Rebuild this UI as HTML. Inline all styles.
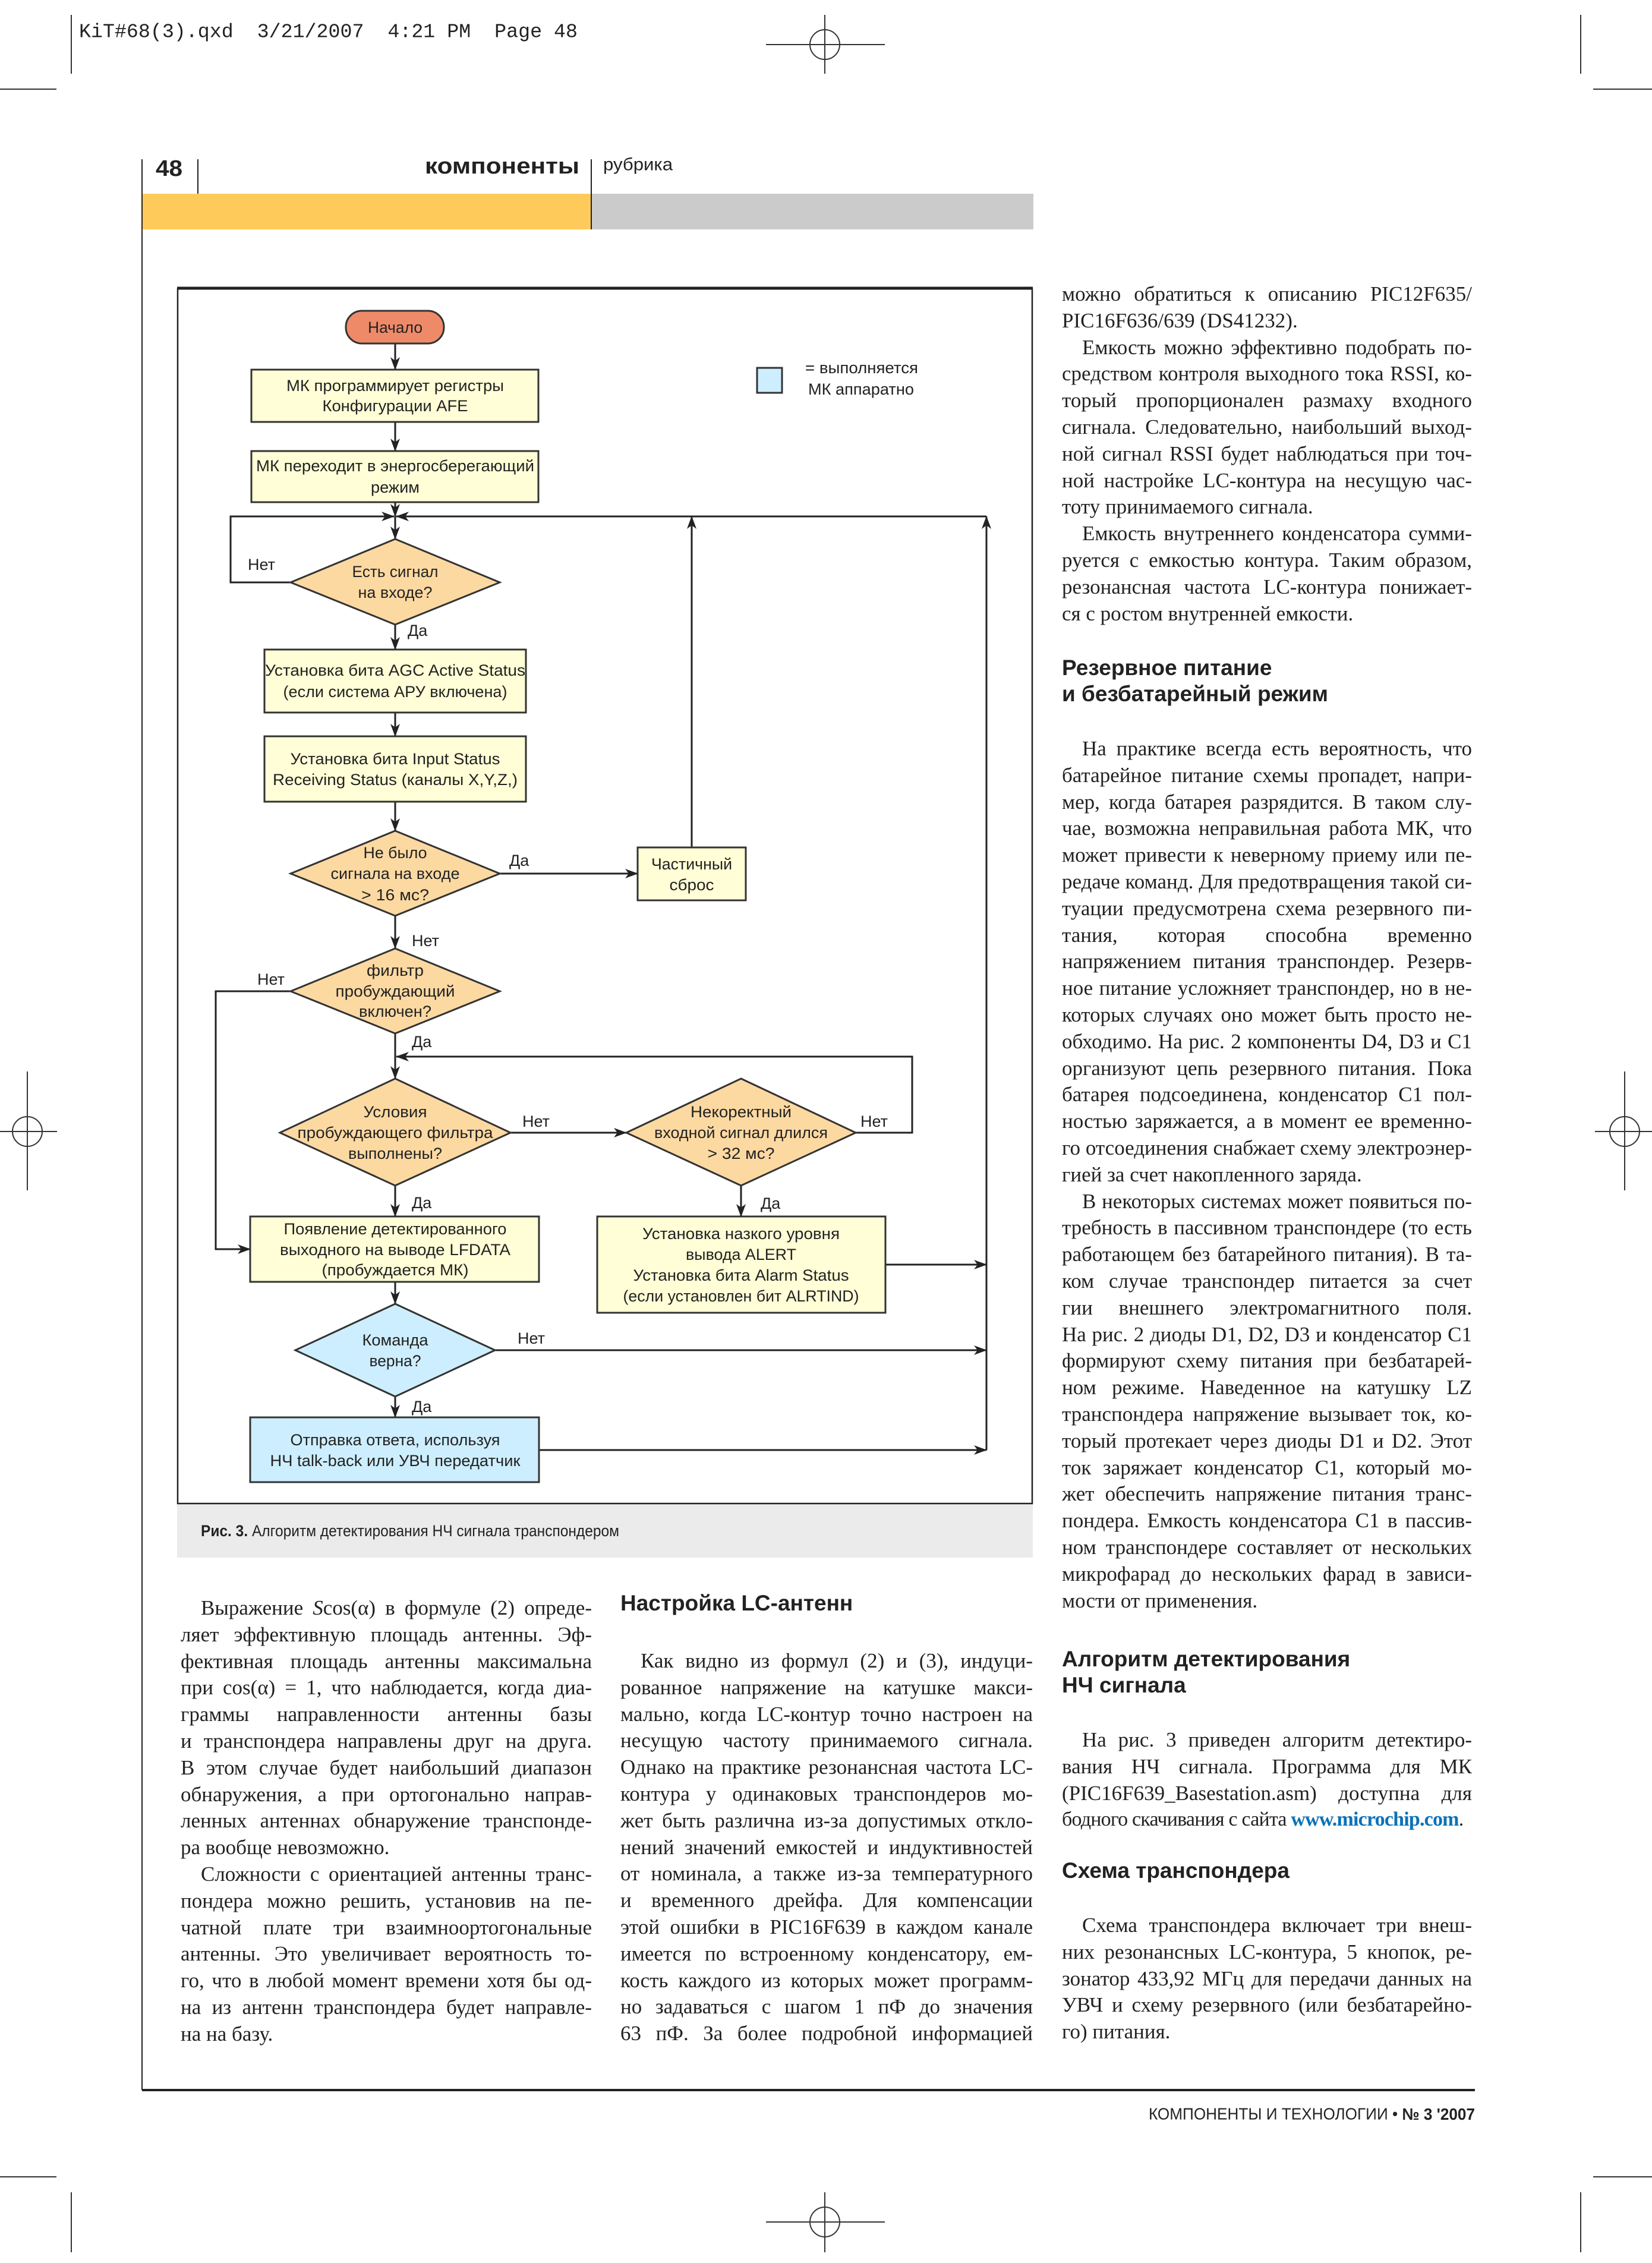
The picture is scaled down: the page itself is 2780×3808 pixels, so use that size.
<!DOCTYPE html>
<html><head><meta charset="utf-8">
<style>
html,body{margin:0;padding:0;background:#fff;}
body{width:2780px;height:3808px;position:relative;overflow:hidden;}
svg.bg{position:absolute;left:0;top:0;}
.col{position:absolute;font-family:"Liberation Serif","Noto Serif CJK SC",serif;font-size:35px;color:#222;}
.col div{height:44.8px;line-height:44.8px;overflow:hidden;text-align:justify;text-align-last:justify;}
.col div.l{text-align-last:left;}
.col div.i{text-indent:34px;}
.h{position:absolute;font-family:"Liberation Sans",sans-serif;font-weight:bold;font-size:37px;color:#222;line-height:44px;}
a.lnk{color:#0a72b9;font-weight:bold;text-decoration:none;}
</style></head><body>
<svg class="bg" width="2780" height="3808" viewBox="0 0 2780 3808" xmlns="http://www.w3.org/2000/svg">
<defs>
<marker id="ar" markerWidth="22" markerHeight="16" refX="21" refY="8" orient="auto" markerUnits="userSpaceOnUse" viewBox="0 0 22 16">
<path d="M0,0 L22,8 L0,16 L6,8 Z" fill="#222"/>
</marker>
</defs>
<style>
.ln{stroke:#222;stroke-width:3;fill:none;}
.a{stroke:#222;stroke-width:3;fill:none;marker-end:url(#ar);}
.bx{stroke:#333;stroke-width:3;}
.t{font-family:"Liberation Sans Narrow","Liberation Sans",sans-serif;font-size:27px;fill:#222;text-anchor:middle;dominant-baseline:central;}
.lb{font-family:"Liberation Sans Narrow","Liberation Sans",sans-serif;font-size:27px;fill:#222;dominant-baseline:central;}
.cm{stroke:#333;stroke-width:2;fill:none;}
</style>
<text x="133" y="54" font-family="Liberation Mono,monospace" font-size="33" fill="#222" dominant-baseline="central" style="white-space:pre" xml:space="preserve" textLength="839" lengthAdjust="spacingAndGlyphs">KiT#68(3).qxd  3/21/2007  4:21 PM  Page 48</text>
<line class="cm" x1="120" y1="25" x2="120" y2="124"/>
<line class="cm" x1="2660" y1="25" x2="2660" y2="124"/>
<line class="cm" x1="1388" y1="25" x2="1388" y2="124"/>
<line class="cm" x1="1289" y1="75" x2="1489" y2="75"/>
<circle class="cm" cx="1388" cy="75" r="25"/>
<line class="cm" x1="0" y1="150" x2="95" y2="150"/>
<line class="cm" x1="2681" y1="150" x2="2780" y2="150"/>
<line class="cm" x1="46" y1="1803" x2="46" y2="2003"/>
<line class="cm" x1="0" y1="1904" x2="96" y2="1904"/>
<circle class="cm" cx="46" cy="1904" r="25"/>
<line class="cm" x1="2734" y1="1803" x2="2734" y2="2003"/>
<line class="cm" x1="2684" y1="1904" x2="2780" y2="1904"/>
<circle class="cm" cx="2734" cy="1904" r="25"/>
<line class="cm" x1="0" y1="3663" x2="95" y2="3663" stroke-width="4"/>
<line class="cm" x1="2681" y1="3663" x2="2780" y2="3663" stroke-width="4"/>
<line class="cm" x1="120" y1="3689" x2="120" y2="3790"/>
<line class="cm" x1="2660" y1="3689" x2="2660" y2="3790"/>
<line class="cm" x1="1388" y1="3689" x2="1388" y2="3790"/>
<line class="cm" x1="1289" y1="3739" x2="1489" y2="3739" stroke-width="4"/>
<circle class="cm" cx="1388" cy="3739" r="25"/>

<rect x="239" y="326" width="756" height="60" fill="#fecb5a"/>
<rect x="995" y="326" width="744" height="60" fill="#cbcbcb"/>
<line x1="239" y1="268" x2="239" y2="3517" stroke="#222" stroke-width="2"/>
<line x1="333" y1="268" x2="333" y2="326" stroke="#222" stroke-width="2"/>
<line x1="995" y1="268" x2="995" y2="386" stroke="#222" stroke-width="2"/>
<text x="262" y="284" font-family="Liberation Sans Narrow,Liberation Sans,sans-serif" font-weight="bold" font-size="38" fill="#222" dominant-baseline="central" textLength="45" lengthAdjust="spacingAndGlyphs">48</text>
<text x="975" y="280" font-family="Liberation Sans,sans-serif" font-weight="bold" font-size="38" fill="#222" text-anchor="end" dominant-baseline="central" textLength="260" lengthAdjust="spacingAndGlyphs">компоненты</text>
<text x="1015" y="277" font-family="Liberation Sans,sans-serif" font-size="30" fill="#222" dominant-baseline="central" textLength="117" lengthAdjust="spacingAndGlyphs">рубрика</text>

<line x1="239" y1="3517" x2="2482" y2="3517" stroke="#222" stroke-width="4"/>
<text x="2482" y="3557" font-family="Liberation Sans Narrow,Liberation Sans,sans-serif" font-size="28" fill="#222" text-anchor="end" dominant-baseline="central" textLength="549" lengthAdjust="spacingAndGlyphs">КОМПОНЕНТЫ И ТЕХНОЛОГИИ • <tspan font-weight="bold">№ 3 '2007</tspan></text>

<rect x="298" y="2530" width="1440" height="91" fill="#ebebeb"/>
<rect x="299" y="486" width="1438" height="2044" fill="none" stroke="#222" stroke-width="2.5"/>
<line x1="298" y1="485" x2="1738" y2="485" stroke="#222" stroke-width="5"/>
<text x="338" y="2576" class="lb" font-size="26" textLength="704" lengthAdjust="spacingAndGlyphs"><tspan font-weight="bold">Рис. 3.</tspan> Алгоритм детектирования НЧ сигнала транспондером</text>

<rect x="1274" y="619" width="42" height="42" fill="#cdeefe" class="bx"/>
<text class="lb" x="1355" y="619" textLength="190" lengthAdjust="spacingAndGlyphs">= выполняется</text>
<text class="lb" x="1360" y="655" textLength="178" lengthAdjust="spacingAndGlyphs">МК аппаратно</text>

<line class="a" x1="665" y1="578" x2="665" y2="622"/>
<line class="a" x1="665" y1="710" x2="665" y2="759"/>
<line class="a" x1="665" y1="845" x2="665" y2="869"/>
<line class="a" x1="665" y1="869" x2="665" y2="907"/>
<polyline class="a" points="489,980 388,980 388,869 663,869"/>
<polyline class="a" points="1660,2440 1660,869"/>
<line class="a" x1="1660" y1="869" x2="667" y2="869"/>
<line class="a" x1="1164" y1="1426" x2="1164" y2="869"/>
<line class="a" x1="665" y1="1051" x2="665" y2="1093"/>
<line class="a" x1="665" y1="1199" x2="665" y2="1239"/>
<line class="a" x1="665" y1="1349" x2="665" y2="1398"/>
<line class="a" x1="841" y1="1470" x2="1073" y2="1470"/>
<line class="a" x1="665" y1="1541" x2="665" y2="1596"/>
<polyline class="a" points="489,1668 363,1668 363,2102 421,2102"/>
<line class="a" x1="665" y1="1739" x2="665" y2="1815"/>
<polyline class="a" points="1440,1906 1535,1906 1535,1778 667,1778"/>
<line class="a" x1="859" y1="1906" x2="1054" y2="1906"/>
<line class="a" x1="665" y1="1995" x2="665" y2="2047"/>
<line class="a" x1="1247" y1="1995" x2="1247" y2="2047"/>
<line class="a" x1="1490" y1="2128" x2="1660" y2="2128"/>
<line class="a" x1="665" y1="2157" x2="665" y2="2194"/>
<line class="a" x1="833" y1="2272" x2="1660" y2="2272"/>
<line class="a" x1="665" y1="2350" x2="665" y2="2385"/>
<line class="a" x1="907" y1="2440" x2="1660" y2="2440"/>

<rect x="582" y="523" width="165" height="55" rx="27" fill="#ef8a68" class="bx"/>
<rect x="423" y="622" width="483" height="88" fill="#fffed6" class="bx"/>
<rect x="423" y="759" width="483" height="86" fill="#fffed6" class="bx"/>
<polygon points="665,907 841,980 665,1051 489,980" fill="#fdd9a2" class="bx"/>
<rect x="445" y="1093" width="440" height="106" fill="#fffed6" class="bx"/>
<rect x="445" y="1239" width="440" height="110" fill="#fffed6" class="bx"/>
<polygon points="665,1398 841,1470 665,1541 489,1470" fill="#fdd9a2" class="bx"/>
<rect x="1073" y="1426" width="182" height="89" fill="#fffed6" class="bx"/>
<polygon points="665,1596 841,1668 665,1739 489,1668" fill="#fdd9a2" class="bx"/>
<polygon points="665,1815 859,1906 665,1995 471,1906" fill="#fdd9a2" class="bx"/>
<polygon points="1247,1815 1440,1906 1247,1995 1054,1906" fill="#fdd9a2" class="bx"/>
<rect x="421" y="2047" width="486" height="110" fill="#fffed6" class="bx"/>
<rect x="1005" y="2047" width="485" height="162" fill="#fffed6" class="bx"/>
<polygon points="665,2194 833,2272 665,2350 497,2272" fill="#cdeefe" class="bx"/>
<rect x="421" y="2385" width="486" height="109" fill="#cdeefe" class="bx"/>

<text class="t" x="665" y="551" textLength="92" lengthAdjust="spacingAndGlyphs">Начало</text>
<text class="t" x="665" y="649" textLength="366" lengthAdjust="spacingAndGlyphs">МК программирует регистры</text>
<text class="t" x="665" y="683" textLength="245" lengthAdjust="spacingAndGlyphs">Конфигурации AFE</text>
<text class="t" x="665" y="784" textLength="468" lengthAdjust="spacingAndGlyphs">МК переходит в энергосберегающий</text>
<text class="t" x="665" y="820" textLength="82" lengthAdjust="spacingAndGlyphs">режим</text>
<text class="t" x="665" y="962" textLength="145" lengthAdjust="spacingAndGlyphs">Есть сигнал</text>
<text class="t" x="665" y="997" textLength="125" lengthAdjust="spacingAndGlyphs">на входе?</text>
<text class="t" x="665" y="1128" textLength="438" lengthAdjust="spacingAndGlyphs">Установка бита AGC Active Status</text>
<text class="t" x="665" y="1164" textLength="377" lengthAdjust="spacingAndGlyphs">(если система АРУ включена)</text>
<text class="t" x="665" y="1277" textLength="353" lengthAdjust="spacingAndGlyphs">Установка бита Input Status</text>
<text class="t" x="665" y="1312" textLength="412" lengthAdjust="spacingAndGlyphs">Receiving Status (каналы X,Y,Z,)</text>
<text class="t" x="665" y="1435" textLength="107" lengthAdjust="spacingAndGlyphs">Не было</text>
<text class="t" x="665" y="1470" textLength="217" lengthAdjust="spacingAndGlyphs">сигнала на входе</text>
<text class="t" x="665" y="1506" textLength="114" lengthAdjust="spacingAndGlyphs">&gt; 16 мс?</text>
<text class="t" x="1164" y="1454" textLength="136" lengthAdjust="spacingAndGlyphs">Частичный</text>
<text class="t" x="1164" y="1489" textLength="75" lengthAdjust="spacingAndGlyphs">сброс</text>
<text class="t" x="665" y="1633" textLength="96" lengthAdjust="spacingAndGlyphs">фильтр</text>
<text class="t" x="665" y="1668" textLength="201" lengthAdjust="spacingAndGlyphs">пробуждающий</text>
<text class="t" x="665" y="1702" textLength="122" lengthAdjust="spacingAndGlyphs">включен?</text>
<text class="t" x="665" y="1871" textLength="107" lengthAdjust="spacingAndGlyphs">Условия</text>
<text class="t" x="665" y="1906" textLength="329" lengthAdjust="spacingAndGlyphs">пробуждающего фильтра</text>
<text class="t" x="665" y="1941" textLength="158" lengthAdjust="spacingAndGlyphs">выполнены?</text>
<text class="t" x="1247" y="1871" textLength="170" lengthAdjust="spacingAndGlyphs">Некоректный</text>
<text class="t" x="1247" y="1906" textLength="292" lengthAdjust="spacingAndGlyphs">входной сигнал длился</text>
<text class="t" x="1247" y="1941" textLength="113" lengthAdjust="spacingAndGlyphs">&gt; 32 мс?</text>
<text class="t" x="665" y="2068" textLength="375" lengthAdjust="spacingAndGlyphs">Появление детектированного</text>
<text class="t" x="665" y="2103" textLength="388" lengthAdjust="spacingAndGlyphs">выходного на выводе LFDATA</text>
<text class="t" x="665" y="2137" textLength="247" lengthAdjust="spacingAndGlyphs">(пробуждается МК)</text>
<text class="t" x="1247" y="2076" textLength="332" lengthAdjust="spacingAndGlyphs">Установка назкого уровня</text>
<text class="t" x="1247" y="2111" textLength="186" lengthAdjust="spacingAndGlyphs">вывода ALERT</text>
<text class="t" x="1247" y="2146" textLength="363" lengthAdjust="spacingAndGlyphs">Установка бита Alarm Status</text>
<text class="t" x="1247" y="2181" textLength="397" lengthAdjust="spacingAndGlyphs">(если установлен бит ALRTIND)</text>
<text class="t" x="665" y="2255" textLength="111" lengthAdjust="spacingAndGlyphs">Команда</text>
<text class="t" x="665" y="2290" textLength="87" lengthAdjust="spacingAndGlyphs">верна?</text>
<text class="t" x="665" y="2423" textLength="353" lengthAdjust="spacingAndGlyphs">Отправка ответа, используя</text>
<text class="t" x="665" y="2458" textLength="421" lengthAdjust="spacingAndGlyphs">НЧ talk-back или УВЧ передатчик</text>

<text class="lb" x="417" y="950">Нет</text>
<text class="lb" x="686" y="1061">Да</text>
<text class="lb" x="857" y="1448">Да</text>
<text class="lb" x="693" y="1583">Нет</text>
<text class="lb" x="433" y="1648">Нет</text>
<text class="lb" x="693" y="1753">Да</text>
<text class="lb" x="879" y="1887">Нет</text>
<text class="lb" x="1448" y="1887">Нет</text>
<text class="lb" x="693" y="2024">Да</text>
<text class="lb" x="1280" y="2025">Да</text>
<text class="lb" x="871" y="2252">Нет</text>
<text class="lb" x="693" y="2367">Да</text>
</svg>

<div class="col" style="left:1787px;top:473px;width:690px;">
<div>можно обратиться к описанию PIC12F635/</div>
<div class="l">PIC16F636/639 (DS41232).</div>
<div class="i">Емкость можно эффективно подобрать по-</div>
<div>средством контроля выходного тока RSSI, ко-</div>
<div>торый пропорционален размаху входного</div>
<div>сигнала. Следовательно, наибольший выход-</div>
<div>ной сигнал RSSI будет наблюдаться при точ-</div>
<div>ной настройке LC-контура на несущую час-</div>
<div class="l">тоту принимаемого сигнала.</div>
<div class="i">Емкость внутреннего конденсатора сумми-</div>
<div>руется с емкостью контура. Таким образом,</div>
<div>резонансная частота LC-контура понижает-</div>
<div class="l">ся с ростом внутренней емкости.</div>
</div>
<div class="h" style="left:1787px;top:1102px;">Резервное питание<br>и безбатарейный режим</div>
<div class="col" style="left:1787px;top:1238px;width:690px;">
<div class="i">На практике всегда есть вероятность, что</div>
<div>батарейное питание схемы пропадет, напри-</div>
<div>мер, когда батарея разрядится. В таком слу-</div>
<div>чае, возможна неправильная работа МК, что</div>
<div>может привести к неверному приему или пе-</div>
<div>редаче команд. Для предотвращения такой си-</div>
<div>туации предусмотрена схема резервного пи-</div>
<div>тания, которая способна временно обеспечить</div>
<div>напряжением питания транспондер. Резерв-</div>
<div>ное питание усложняет транспондер, но в не-</div>
<div>которых случаях оно может быть просто не-</div>
<div>обходимо. На рис. 2 компоненты D4, D3 и C1</div>
<div>организуют цепь резервного питания. Пока</div>
<div>батарея подсоединена, конденсатор C1 пол-</div>
<div>ностью заряжается, а в момент ее временно-</div>
<div>го отсоединения снабжает схему электроэнер-</div>
<div class="l">гией за счет накопленного заряда.</div>
<div class="i">В некоторых системах может появиться по-</div>
<div>требность в пассивном транспондере (то есть</div>
<div>работающем без батарейного питания). В та-</div>
<div>ком случае транспондер питается за счет энер-</div>
<div>гии внешнего электромагнитного поля.</div>
<div>На рис. 2 диоды D1, D2, D3 и конденсатор C1</div>
<div>формируют схему питания при безбатарей-</div>
<div>ном режиме. Наведенное на катушку LZ</div>
<div>транспондера напряжение вызывает ток, ко-</div>
<div>торый протекает через диоды D1 и D2. Этот</div>
<div>ток заряжает конденсатор C1, который мо-</div>
<div>жет обеспечить напряжение питания транс-</div>
<div>пондера. Емкость конденсатора C1 в пассив-</div>
<div>ном транспондере составляет от нескольких</div>
<div>микрофарад до нескольких фарад в зависи-</div>
<div class="l">мости от применения.</div>
</div>
<div class="h" style="left:1787px;top:2770px;">Алгоритм детектирования<br>НЧ сигнала</div>
<div class="col" style="left:1787px;top:2906px;width:690px;">
<div class="i">На рис. 3 приведен алгоритм детектиро-</div>
<div>вания НЧ сигнала. Программа для МК</div>
<div>(PIC16F639_Basestation.asm) доступна для сво-</div>
<div style="font-size:34px;letter-spacing:-0.8px;white-space:nowrap;text-align:left;text-align-last:left;">бодного скачивания с сайта <a class="lnk">www.microchip.com</a>.</div>
</div>
<div class="h" style="left:1787px;top:3126px;">Схема транспондера</div>
<div class="col" style="left:1787px;top:3218px;width:690px;">
<div class="i">Схема транспондера включает три внеш-</div>
<div>них резонансных LC-контура, 5 кнопок, ре-</div>
<div>зонатор 433,92 МГц для передачи данных на</div>
<div>УВЧ и схему резервного (или безбатарейно-</div>
<div class="l">го) питания.</div>
</div>

<div class="col" style="left:304px;top:2684px;width:692px;">
<div class="i">Выражение <i>S</i>cos(α) в формуле (2) опреде-</div>
<div>ляет эффективную площадь антенны. Эф-</div>
<div>фективная площадь антенны максимальна</div>
<div>при cos(α) = 1, что наблюдается, когда диа-</div>
<div>граммы направленности антенны базы</div>
<div>и транспондера направлены друг на друга.</div>
<div>В этом случае будет наибольший диапазон</div>
<div>обнаружения, а при ортогонально направ-</div>
<div>ленных антеннах обнаружение транспонде-</div>
<div class="l">ра вообще невозможно.</div>
<div class="i">Сложности с ориентацией антенны транс-</div>
<div>пондера можно решить, установив на пе-</div>
<div>чатной плате три взаимноортогональные</div>
<div>антенны. Это увеличивает вероятность то-</div>
<div>го, что в любой момент времени хотя бы од-</div>
<div>на из антенн транспондера будет направле-</div>
<div class="l">на на базу.</div>
</div>

<div class="h" style="left:1044px;top:2676px;">Настройка LC-антенн</div>
<div class="col" style="left:1044px;top:2773px;width:694px;">
<div class="i">Как видно из формул (2) и (3), индуци-</div>
<div>рованное напряжение на катушке макси-</div>
<div>мально, когда LC-контур точно настроен на</div>
<div>несущую частоту принимаемого сигнала.</div>
<div>Однако на практике резонансная частота LC-</div>
<div>контура у одинаковых транспондеров мо-</div>
<div>жет быть различна из-за допустимых откло-</div>
<div>нений значений емкостей и индуктивностей</div>
<div>от номинала, а также из-за температурного</div>
<div>и временного дрейфа. Для компенсации</div>
<div>этой ошибки в PIC16F639 в каждом канале</div>
<div>имеется по встроенному конденсатору, ем-</div>
<div>кость каждого из которых может программ-</div>
<div>но задаваться с шагом 1 пФ до значения</div>
<div>63 пФ. За более подробной информацией</div>
</div>
</body></html>
